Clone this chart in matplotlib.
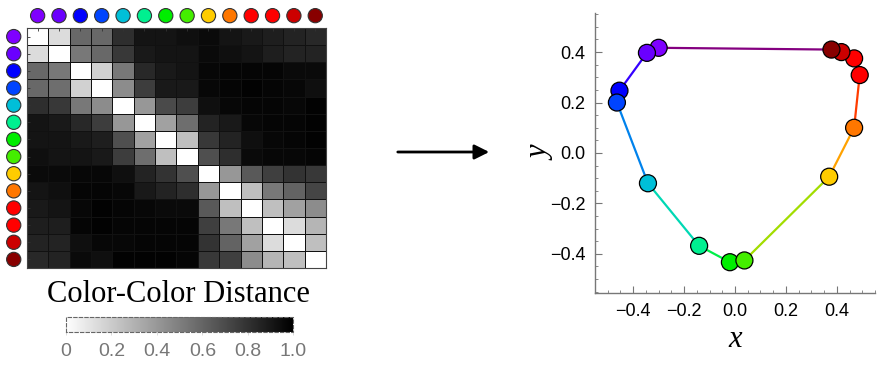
import numpy as np
import matplotlib.pyplot as plt
import matplotlib.colors as mcolors
from matplotlib.cm import ScalarMappable
from matplotlib.patches import FancyArrowPatch
from matplotlib.ticker import MultipleLocator

# swatch colours (same order on both panels)
swatch_colors = [
    "#7F00FF", "#6A00FF", "#0000FF", "#0044FF", "#00BFD8", "#00F090", "#00EE00",
    "#44EE00", "#FFCC00", "#FF7700", "#FF0000", "#FF0000", "#CC0000", "#880000",
]

# color-color distance matrix (0 = identical)
dist = np.array([
    [0.00, 0.14, 0.59, 0.59, 0.82, 0.92, 0.92, 0.94, 0.96, 0.92, 0.90, 0.88, 0.86, 0.84],
    [0.14, 0.00, 0.53, 0.59, 0.78, 0.90, 0.92, 0.92, 0.96, 0.94, 0.92, 0.88, 0.86, 0.86],
    [0.59, 0.53, 0.00, 0.18, 0.53, 0.84, 0.90, 0.92, 0.97, 0.98, 0.98, 0.98, 0.96, 0.96],
    [0.59, 0.57, 0.18, 0.00, 0.45, 0.76, 0.90, 0.90, 0.97, 0.98, 0.99, 0.98, 0.97, 0.94],
    [0.82, 0.78, 0.53, 0.45, 0.00, 0.41, 0.71, 0.76, 0.94, 0.97, 0.98, 0.98, 0.97, 0.99],
    [0.92, 0.90, 0.84, 0.76, 0.41, 0.00, 0.37, 0.57, 0.86, 0.90, 0.97, 0.98, 0.98, 0.99],
    [0.92, 0.92, 0.90, 0.88, 0.69, 0.37, 0.00, 0.25, 0.78, 0.86, 0.94, 0.97, 0.98, 0.99],
    [0.94, 0.92, 0.92, 0.90, 0.76, 0.57, 0.25, 0.00, 0.69, 0.82, 0.96, 0.97, 0.97, 0.98],
    [0.96, 0.96, 0.97, 0.97, 0.94, 0.86, 0.80, 0.69, 0.00, 0.41, 0.65, 0.75, 0.80, 0.78],
    [0.92, 0.94, 0.98, 0.98, 0.97, 0.90, 0.86, 0.82, 0.41, 0.00, 0.25, 0.53, 0.61, 0.73],
    [0.90, 0.92, 0.97, 0.99, 0.98, 0.97, 0.96, 0.96, 0.65, 0.25, 0.00, 0.25, 0.37, 0.45],
    [0.88, 0.88, 0.98, 0.99, 0.98, 0.98, 0.98, 0.98, 0.75, 0.53, 0.25, 0.00, 0.14, 0.29],
    [0.86, 0.86, 0.94, 0.97, 0.97, 0.98, 0.98, 0.98, 0.80, 0.61, 0.37, 0.14, 0.00, 0.25],
    [0.84, 0.86, 0.96, 0.94, 0.99, 0.99, 0.99, 0.98, 0.78, 0.75, 0.45, 0.29, 0.25, 0.00],
])

# 2D embedding
emb_x = [-0.300, -0.346, -0.454, -0.464, -0.342, -0.141, -0.020, 0.037, 0.370, 0.468, 0.490, 0.468, 0.418, 0.379]
emb_y = [0.417, 0.397, 0.247, 0.200, -0.120, -0.368, -0.433, -0.426, -0.094, 0.100, 0.309, 0.375, 0.400, 0.410]

cbar_ticks = [0, 0.2, 0.4, 0.6, 0.8, 1.0]
cbar_labels = ["0", "0.2", "0.4", "0.6", "0.8", "1.0"]
axis_ticks = [-0.4, -0.2, 0.0, 0.2, 0.4]
axis_labels = ["\u22120.4", "\u22120.2", "0.0", "0.2", "0.4"]

fig = plt.figure(figsize=(8.84, 3.66), dpi=100)

# ---- heatmap ----
n = len(swatch_colors)
ax = fig.add_axes([0.0305, 0.2678, 0.3382, 0.6557])
ax.pcolormesh(dist, cmap="gray_r", vmin=0, vmax=1,
              edgecolors="#111111", linewidth=0.6)
ax.set_xlim(0, n)
ax.set_ylim(n, 0)
ax.set_xticks(np.arange(n) + 0.5)
ax.set_yticks(np.arange(n) + 0.5)
ax.set_xticklabels([])
ax.set_yticklabels([])
ax.xaxis.tick_top()
ax.tick_params(direction="in", length=2.5, width=0.6, color="#333333",
               bottom=False, right=False)
for s in ax.spines.values():
    s.set_color("#444444")
    s.set_linewidth(0.8)

idx = np.arange(n) + 0.5
ax.scatter(idx, np.full(n, -0.72), s=105, c=swatch_colors,
           edgecolors="#333333", linewidths=0.8, clip_on=False, zorder=5)
ax.scatter(np.full(n, -0.62), idx, s=105, c=swatch_colors,
           edgecolors="#333333", linewidths=0.8, clip_on=False, zorder=5)

# ---- colorbar ----
cax = fig.add_axes([0.0747, 0.0929, 0.2570, 0.041])
sm = ScalarMappable(norm=mcolors.Normalize(0, 1), cmap="gray_r")
cb = fig.colorbar(sm, cax=cax, orientation="horizontal")
cb.solids.set_edgecolor("face")
cb.solids.set_antialiased(False)
cb.outline.set_linestyle((0, (3, 2)))
cb.outline.set_edgecolor("#666666")
cb.outline.set_linewidth(0.8)
cb.set_ticks(cbar_ticks)
cb.set_ticklabels(cbar_labels)
cax.tick_params(length=2, width=0.5, color="#cccccc", labelcolor="#777777",
                labelsize=14, pad=6)
for lab in cax.get_xticklabels():
    lab.set_family("Liberation Sans")
fig.text(0.2014, 0.194, "Color-Color Distance", ha="center", va="center",
         fontsize=22, family="Liberation Serif")

# ---- arrow ----
fig.add_artist(FancyArrowPatch(
    (395 / 884, 1 - 152 / 366), (492 / 884, 1 - 152 / 366),
    transform=fig.transFigure, arrowstyle="-|>", mutation_scale=22,
    linewidth=2, color="black"))

# ---- embedding ----
bx = fig.add_axes([0.6731, 0.1995, 0.3167, 0.765])
cols = [np.array(mcolors.to_rgb(c)) for c in swatch_colors]
for i in range(n):
    j = (i + 1) % n
    seg_col = tuple((cols[i] + cols[j]) / 2)
    bx.plot([emb_x[i], emb_x[j]], [emb_y[i], emb_y[j]], color=seg_col,
            linewidth=1.6, zorder=2, solid_capstyle="round")
bx.scatter(emb_x, emb_y, s=150, c=swatch_colors, edgecolors="black",
           linewidths=0.9, zorder=3)

bx.set_xlim(-0.55, 0.55)
bx.set_ylim(-0.555, 0.555)
bx.spines["top"].set_visible(False)
bx.spines["right"].set_visible(False)
for s in ("left", "bottom"):
    bx.spines[s].set_color("#777777")
    bx.spines[s].set_linewidth(1.0)
bx.xaxis.set_minor_locator(MultipleLocator(0.05))
bx.yaxis.set_minor_locator(MultipleLocator(0.05))
bx.set_xticks(axis_ticks)
bx.set_yticks(axis_ticks)
bx.set_xticklabels(axis_labels)
bx.set_yticklabels(axis_labels)
bx.tick_params(which="major", direction="in", length=5, width=0.8,
               color="#777777", labelsize=13, pad=7)
bx.tick_params(which="minor", direction="in", length=2.5, width=0.6,
               color="#777777")
for lab in bx.get_xticklabels() + bx.get_yticklabels():
    lab.set_family("Liberation Sans")
bx.set_xlabel("x", fontsize=22, family="Liberation Serif", style="italic",
              labelpad=4)
bx.set_ylabel("y", fontsize=22, family="Liberation Serif", style="italic",
              labelpad=-4)

fig.savefig("out.png", dpi=100)
